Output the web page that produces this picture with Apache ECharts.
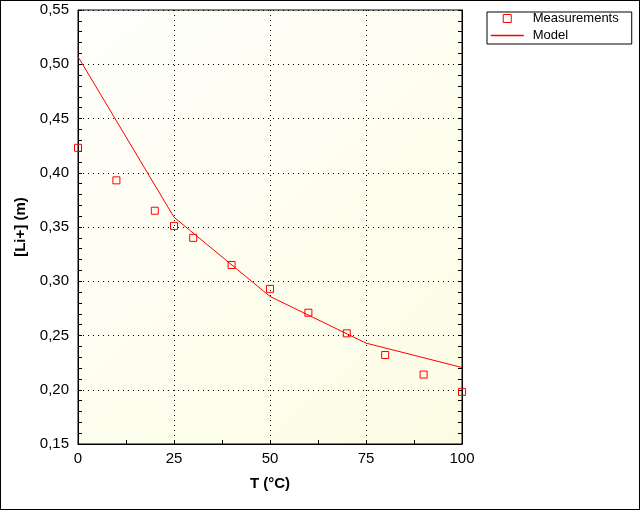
<!DOCTYPE html>
<html>
  <head>
    <meta charset="utf-8" />
    <title>[Li+] vs T</title>
    <script src="https://cdn.jsdelivr.net/npm/echarts@6/dist/echarts.min.js"></script>
    <style>
      html, body { margin: 0; padding: 0; background: #fff; }
      #frame { position: absolute; left: 0; top: 0; width: 640px; height: 510px; box-sizing: border-box; border: 1px solid #000; }
      #chart { position: absolute; left: 0; top: 0; width: 640px; height: 510px; }
    </style>
  </head>
  <body>
    <div id="chart"></div>
    <div id="frame"></div>
    <script type="text/javascript">
      // measured points
      var measT = [0, 10, 20, 25, 30, 40, 50, 60, 70, 80, 90, 100];
      var measLi = [0.423, 0.393, 0.365, 0.351, 0.340, 0.315, 0.293, 0.271, 0.252, 0.232, 0.214, 0.198];
      // model curve
      var modelT = [0, 25, 50, 75, 100];
      var modelLi = [0.507, 0.359, 0.286, 0.243, 0.2205];

      var font = "'Liberation Sans', Arial, sans-serif";
      var pair = function (xs, ys) {
        var out = [];
        for (var i = 0; i < xs.length; i++) out.push([xs[i], ys[i]]);
        return out;
      };
      var comma = function (v) { return v.toFixed(2).replace('.', ','); };
      var tick = { show: true, inside: true, length: 4, lineStyle: { color: '#000', width: 1 } };
      var dots = { show: true, lineStyle: { color: '#000', width: 1, type: [1, 4] } };

      var myChart = echarts.init(document.getElementById('chart'), null, { renderer: 'canvas' });
      myChart.setOption({
        animation: false,
        backgroundColor: '#fff',
        textStyle: { fontFamily: font },
        grid: {
          left: 78, top: 10, right: 178, bottom: 66,
          outerBoundsMode: 'none',
          containLabel: false,
          show: true,
          borderColor: '#000',
          borderWidth: 1,
          backgroundColor: new echarts.graphic.LinearGradient(0, 0, 1, 1, [
            { offset: 0, color: '#fffffc' },
            { offset: 1, color: '#fcfce4' }
          ])
        },
        legend: {
          orient: 'vertical',
          left: 487, top: 12,
          padding: [0, 13, 2, 3],
          itemWidth: 33, itemHeight: 8, itemGap: 4,
          borderColor: '#000', borderWidth: 1,
          backgroundColor: '#fff',
          textStyle: { fontFamily: font, fontSize: 13, color: '#000', lineHeight: 13, padding: [0, 0, 0, 4] },
          data: [
            { name: 'Measurements', icon: 'path://M0,0H7V7H0Z',
              itemStyle: { color: 'rgba(0,0,0,0)', borderColor: '#ff0000', borderWidth: 1 } },
            { name: 'Model',
              itemStyle: { opacity: 0 },
              lineStyle: { color: '#ff0000', width: 1.5, opacity: 1 } }
          ]
        },
        xAxis: {
          type: 'value', min: 0, max: 100, interval: 25,
          name: 'T (°C)', nameLocation: 'middle', nameGap: 32,
          nameTextStyle: { fontFamily: font, fontSize: 15, fontWeight: 'bold', color: '#000' },
          axisLine: { show: true, lineStyle: { color: '#000', width: 1 } },
          axisTick: tick,
          minorTick: { show: true, splitNumber: 2, length: 4, lineStyle: { color: '#000', width: 1 } },
          axisLabel: { fontFamily: font, fontSize: 15, color: '#000', margin: 7 },
          splitLine: dots
        },
        yAxis: [{
          type: 'value', min: 0.15, max: 0.55, interval: 0.05,
          name: '[Li+] (m)', nameLocation: 'middle', nameGap: 50,
          nameTextStyle: { fontFamily: font, fontSize: 15, fontWeight: 'bold', color: '#000' },
          axisLine: { show: true, lineStyle: { color: '#000', width: 1 } },
          axisTick: tick,
          minorTick: { show: true, splitNumber: 5, length: 4, lineStyle: { color: '#000', width: 1 } },
          axisLabel: { fontFamily: font, fontSize: 15, color: '#000', margin: 9, formatter: comma },
          splitLine: dots
        }, {
          type: 'value', min: 0.15, max: 0.55, interval: 0.05, position: 'right',
          axisLine: { show: true, lineStyle: { color: '#000', width: 1 } },
          axisTick: tick,
          minorTick: { show: true, splitNumber: 5, length: 4, lineStyle: { color: '#000', width: 1 } },
          axisLabel: { show: false },
          splitLine: { show: false }
        }],
        series: [{
          name: 'Measurements',
          type: 'scatter',
          symbol: 'rect',
          symbolSize: 7,
          itemStyle: { color: 'rgba(0,0,0,0)', borderColor: '#ff0000', borderWidth: 1, opacity: 1 },
          data: pair(measT, measLi),
          z: 3
        }, {
          name: 'Model',
          type: 'line',
          showSymbol: false,
          symbol: 'none',
          color: '#ff0000',
          itemStyle: { color: '#ff0000' },
          lineStyle: { color: '#ff0000', width: 1 },
          data: pair(modelT, modelLi),
          z: 2
        }]
      });
    </script>
  </body>
</html>
